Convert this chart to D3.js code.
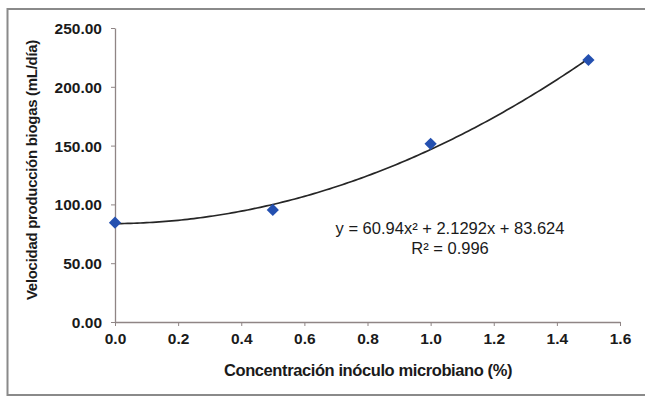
<!DOCTYPE html>
<html>
<head>
<meta charset="utf-8">
<script src="https://cdn.jsdelivr.net/npm/d3@7"></script>
<style>
  html, body { margin: 0; padding: 0; background: #fff; }
  svg { display: block; }
  text { font-family: "Liberation Sans", Arial, sans-serif; fill: #1a1a1a; }
</style>
</head>
<body>
<svg id="chart" width="645" height="397"></svg>
<script>
// Inoculum concentration (%) and biogas production rate (mL/día)
const concentration = [0.0, 0.5, 1.0, 1.5];
const biogasRate = [84.5, 95.3, 151.5, 222.8];

// Polynomial trendline coefficients (y = a x² + b x + c)
const trendCoeffs = [60.94, 2.1292, 83.624];
const trendLabel = ["y = 60.94x² + 2.1292x + 83.624", "R² = 0.996"];

const xTicks = [0, 0.2, 0.4, 0.6, 0.8, 1.0, 1.2, 1.4, 1.6];
const yTicks = [0, 50, 100, 150, 200, 250];

const xTitle = "Concentración inóculo microbiano (%)";
const yTitle = "Velocidad producción biogas (mL/día)";

const svg = d3.select("#chart");
const W = 645, H = 397;
const margin = { left: 115, right: 25, top: 28, bottom: 75 };

// Outer frame
svg.append("rect")
  .attr("x", 7.5).attr("y", 9)
  .attr("width", W + 10).attr("height", 386)
  .attr("fill", "none").attr("stroke", "#8a8a8a").attr("stroke-width", 2);

const x = d3.scaleLinear().domain([0, 1.6]).range([margin.left, W - margin.right]);
const y = d3.scaleLinear().domain([0, 250]).range([H - margin.bottom, margin.top]);

const axisColor = "#8f8585";

const xAxis = svg.append("g")
  .attr("transform", `translate(0,${y(0)})`)
  .call(d3.axisBottom(x).tickValues(xTicks).tickFormat(d3.format(".1f")).tickSize(4).tickSizeOuter(0).tickPadding(7));
const yAxis = svg.append("g")
  .attr("transform", `translate(${x(0)},0)`)
  .call(d3.axisLeft(y).tickValues(yTicks).tickFormat(d3.format(".2f")).tickSize(4).tickSizeOuter(0).tickPadding(9));

[xAxis, yAxis].forEach(g => {
  g.select(".domain").attr("stroke", axisColor).attr("stroke-width", 1.3);
  g.selectAll(".tick line").attr("stroke", axisColor).attr("stroke-width", 1);
  g.selectAll(".tick text")
    .attr("font-family", "'Liberation Sans', Arial, sans-serif")
    .attr("font-size", 15.5).attr("font-weight", "bold").attr("fill", "#1a1a1a");
});
yAxis.selectAll(".tick text").attr("dy", "0.36em");
xAxis.selectAll(".tick text").attr("dy", "0.72em");

// Trendline
const fit = v => trendCoeffs[0] * v * v + trendCoeffs[1] * v + trendCoeffs[2];
const xs = d3.range(0, 1.5 + 1e-9, 0.01);
svg.append("path")
  .datum(xs)
  .attr("fill", "none")
  .attr("stroke", "#262626")
  .attr("stroke-width", 1.7)
  .attr("d", d3.line().x(d => x(d)).y(d => y(fit(d))));

// Data markers (diamonds)
svg.append("g").selectAll("path")
  .data(concentration.map((c, i) => [c, biogasRate[i]]))
  .join("path")
  .attr("transform", d => `translate(${x(d[0])},${y(d[1])})`)
  .attr("d", d3.symbol(d3.symbolDiamond2, 95)())
  .attr("fill", "#2450b0");

// Trendline equation, one text per line
svg.append("g").selectAll("text")
  .data(trendLabel)
  .join("text")
  .attr("x", 450)
  .attr("y", (d, i) => 234 + i * 20)
  .attr("text-anchor", "middle")
  .attr("font-size", 16.5)
  .text(d => d);

// Axis titles
svg.append("text")
  .attr("x", 368).attr("y", 376)
  .attr("text-anchor", "middle")
  .attr("font-size", 16.5).attr("font-weight", "bold")
  .attr("letter-spacing", "-0.4")
  .text(xTitle);

svg.append("text")
  .attr("transform", "translate(37,170) rotate(-90)")
  .attr("text-anchor", "middle")
  .attr("font-size", 15).attr("font-weight", "bold")
  .attr("letter-spacing", "-0.3")
  .text(yTitle);
</script>
</body>
</html>
